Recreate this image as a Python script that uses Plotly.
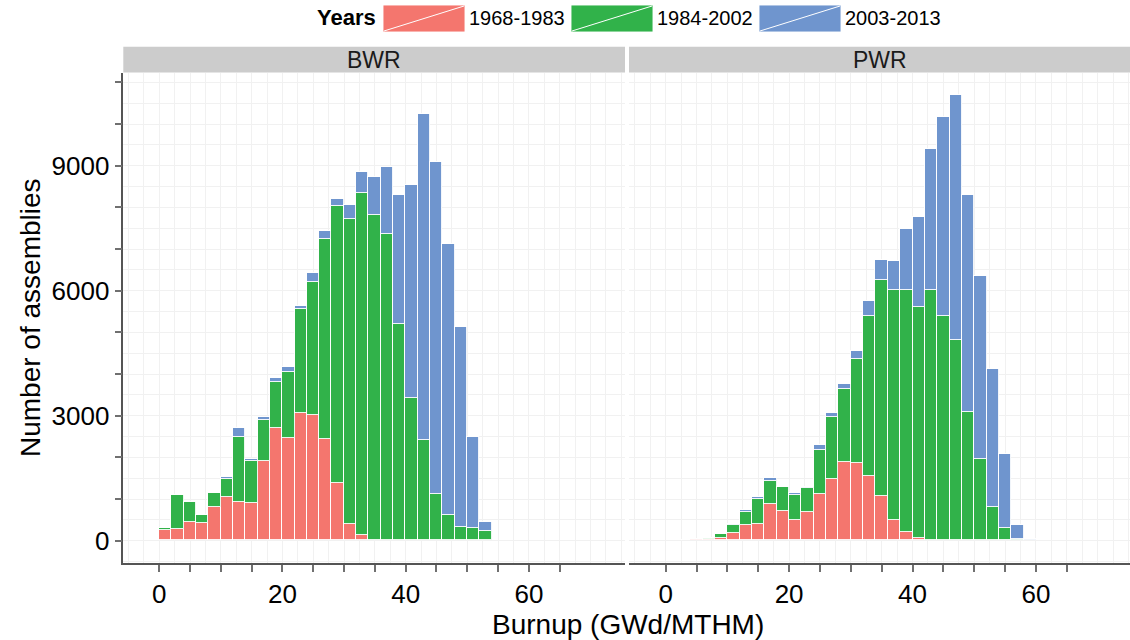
import plotly.graph_objects as go

W, H = 1130, 640

# ---------------- data ----------------
bin_width = 2
bwr_red = [250, 280, 440, 410, 800, 1050, 930, 900, 1910, 2710, 2470, 3060, 3020, 2440,
           1385, 400, 130, 0, 0, 0, 0, 0, 0, 0, 0, 0, 0]
bwr_green = [50, 810, 490, 190, 350, 420, 1550, 1000, 990, 1100, 1580, 2500, 3190, 4790,
             6650, 7310, 8220, 7810, 7360, 5190, 3420, 2410, 1110, 610, 330, 300, 220]
bwr_blue = [0, 0, 0, 0, 0, 60, 220, 60, 70, 80, 120, 60, 220, 200,
            170, 340, 500, 910, 1610, 3090, 5110, 7820, 7970, 6500, 4800, 2190, 220]

pwr_red = [0, 0, 30, 30, 70, 185, 360, 400, 880, 705, 490, 690, 1105, 1475, 1880,
           1857, 1545, 1073, 481, 193, 50, 10, 0, 0, 0, 0, 0, 0, 0, 0]
pwr_green = [0, 0, 0, 40, 80, 190, 330, 585, 535, 575, 610, 560, 1070, 1490, 1760,
             2500, 3850, 5185, 5520, 5825, 5560, 5990, 5377, 4817, 3089, 1961, 793, 297, 25, 0]
pwr_blue = [0, 0, 0, 0, 0, 30, 40, 55, 80, 10, 50, 40, 110, 100, 120,
            180, 345, 480, 700, 1465, 2145, 3400, 4785, 5865, 5200, 4375, 3320, 1785, 352, 40]

series_names = ["1968-1983", "1984-2002", "2003-2013"]
series_colors = ["#F4766E", "#31B24A", "#6F95CE"]
panels = ["BWR", "PWR"]

x_tick_vals = list(range(0, 70, 5))
x_tick_text = [str(v) if v % 20 == 0 else "" for v in x_tick_vals]
y_tick_vals = list(range(0, 12000, 1000))
y_tick_text = [str(v) if v % 3000 == 0 else "" for v in y_tick_vals]

# ---------------- figure ----------------
FONT = "Liberation Sans, Arial, sans-serif"
fig = go.Figure()

panel_data = [
    ("x", "y", [bwr_red, bwr_green, bwr_blue]),
    ("x2", "y2", [pwr_red, pwr_green, pwr_blue]),
]
for xa, ya, groups in panel_data:
    for name, col, vals in zip(series_names, series_colors, groups):
        xs = [i * bin_width + bin_width / 2 for i in range(len(vals))]
        fig.add_trace(go.Bar(
            x=xs, y=vals, width=bin_width, name=name,
            marker=dict(color=col, line=dict(color="rgba(255,255,255,0.9)", width=1)),
            xaxis=xa, yaxis=ya, showlegend=False,
        ))

def px_x(p):
    return p / W

def px_y(p):
    return 1 - p / H

grid_col = "#f1f1f1"
axis_common = dict(
    ticks="outside", ticklen=7, tickwidth=1.5, tickcolor="#707070",
    showline=True, linecolor="#555555", linewidth=1.5,
    showgrid=True, gridcolor=grid_col, gridwidth=1,
    zeroline=False, tickfont=dict(size=26, color="black", family=FONT),
    automargin=False,
)
x_minor = dict(tickvals=[v / 2 for v in range(-10, 152, 5)], showgrid=True,
               gridcolor=grid_col, gridwidth=1, ticks="")
y_minor = dict(tickvals=list(range(-500, 11500, 500)), showgrid=True,
               gridcolor=grid_col, gridwidth=1, ticks="")

y_bottom, y_top = 563.3, 73.3
fig.update_layout(
    width=W, height=H, autosize=False,
    margin=dict(l=0, r=0, t=0, b=0),
    paper_bgcolor="white", plot_bgcolor="white",
    barmode="stack", bargap=0,
    font=dict(family=FONT, color="black"),
    xaxis=dict(domain=[px_x(123.3), px_x(625)], range=[-5.84, 75.6], anchor="y",
               tickvals=x_tick_vals, ticktext=x_tick_text, minor=x_minor, **axis_common),
    xaxis2=dict(domain=[px_x(629), px_x(1130)], range=[-5.95, 75.25], anchor="y2",
                tickvals=x_tick_vals, ticktext=x_tick_text, minor=x_minor, **axis_common),
    yaxis=dict(domain=[px_y(y_bottom), px_y(y_top)], range=[-542, 11218], anchor="x",
               tickvals=y_tick_vals, ticktext=y_tick_text, minor=y_minor, **axis_common),
    yaxis2=dict(domain=[px_y(y_bottom), px_y(y_top)], range=[-542, 11218], anchor="x2",
                matches="y", showticklabels=False, ticks="", showline=False,
                showgrid=True, gridcolor=grid_col, minor=y_minor, zeroline=False),
    showlegend=False,
)

shapes = []
annotations = []

# facet strips
for label, (x0, x1) in zip(panels, [(123.3, 625), (629, 1130)]):
    shapes.append(dict(type="rect", xref="paper", yref="paper",
                       x0=px_x(x0), x1=px_x(x1), y0=px_y(72.5), y1=px_y(46.7),
                       fillcolor="#cccccc", line=dict(width=0), layer="above"))
    annotations.append(dict(text=label, xref="paper", yref="paper",
                            x=px_x((x0 + x1) / 2), y=px_y(60), showarrow=False,
                            xanchor="center", yanchor="middle",
                            font=dict(size=23, color="#1a1a1a", family=FONT)))

# legend
annotations.append(dict(text="<b>Years</b>", xref="paper", yref="paper",
                        x=px_x(378), y=px_y(18), showarrow=False, xanchor="right",
                        yanchor="middle", font=dict(size=22, color="black", family=FONT)))
key_x = [383, 571, 759]
for name, col, kx in zip(series_names, series_colors, key_x):
    shapes.append(dict(type="rect", xref="paper", yref="paper",
                       x0=px_x(kx), x1=px_x(kx + 82), y0=px_y(32), y1=px_y(5),
                       fillcolor=col, line=dict(color="rgba(255,255,255,0.9)", width=1)))
    shapes.append(dict(type="line", xref="paper", yref="paper",
                       x0=px_x(kx + 1), x1=px_x(kx + 81), y0=px_y(31), y1=px_y(6),
                       line=dict(color="white", width=1)))
    annotations.append(dict(text=name, xref="paper", yref="paper",
                            x=px_x(kx + 84), y=px_y(18), showarrow=False,
                            xanchor="left", yanchor="middle",
                            font=dict(size=20, color="black", family=FONT)))

# axis titles
annotations.append(dict(text="Number of assemblies", xref="paper", yref="paper",
                        x=px_x(30), y=px_y(318), textangle=-90, showarrow=False,
                        xanchor="center", yanchor="middle",
                        font=dict(size=28, color="black", family=FONT)))
annotations.append(dict(text="Burnup (GWd/MTHM)", xref="paper", yref="paper",
                        x=px_x(628), y=px_y(624), showarrow=False,
                        xanchor="center", yanchor="middle",
                        font=dict(size=28, color="black", family=FONT)))

fig.update_layout(shapes=shapes, annotations=annotations)
fig.write_html("out.html", config={"displayModeBar": False},
               post_script="document.body.style.margin='0px';")
